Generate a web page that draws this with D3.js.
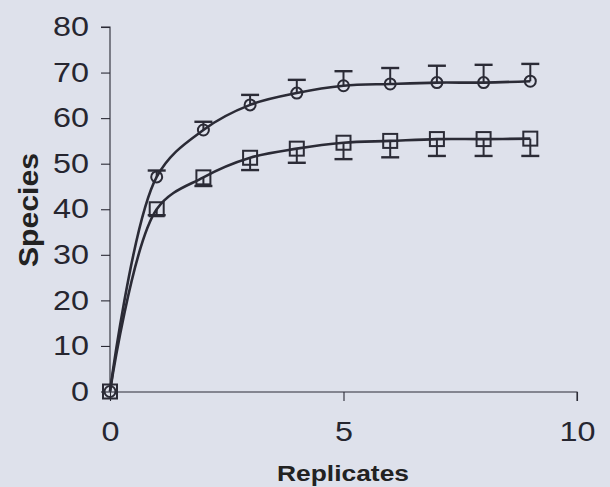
<!DOCTYPE html>
<html><head><meta charset="utf-8">
<script src="https://cdn.jsdelivr.net/npm/d3@7"></script>
<style>html,body{margin:0;padding:0;background:#dee1eb;}svg{display:block;}</style>
</head><body>
<script>
const replicates = [0,1,2,3,4,5,6,7,8,9];
const circleMean = [0,47.1,57.4,62.9,65.5,67.1,67.5,67.8,67.8,68.1];
const circleErr  = [0,1.4,1.8,2.2,2.9,3.2,3.5,3.7,3.9,3.8];
const squareMean = [0,40.0,47.0,51.3,53.3,54.6,55.0,55.4,55.4,55.5];
const squareErr  = [0,1.3,1.9,2.7,3.1,3.6,3.6,3.7,3.7,3.8];
const yTicks = [0,10,20,30,40,50,60,70,80];
const xTicks = [0,5,10];

const W=610,H=487, ink="#2b2b36";
const svg=d3.select("body").append("svg").attr("width",W).attr("height",H);
svg.append("rect").attr("width",W).attr("height",H).attr("fill","#dee1eb");
const x=d3.scaleLinear().domain([0,10]).range([110,577]);
const y=d3.scaleLinear().domain([0,80]).range([391.5,27]);

// axes
const yAx=svg.append("g").attr("transform","translate(110,0)")
  .call(d3.axisLeft(y).tickValues(yTicks).tickSize(9).tickPadding(12));
const xAx=svg.append("g").attr("transform","translate(0,392)")
  .call(d3.axisBottom(x).tickValues(xTicks).tickSize(9).tickPadding(21));
[yAx,xAx].forEach(g=>{
  g.select(".domain").attr("stroke",ink).attr("stroke-width",1.1);
  g.selectAll(".tick line").attr("stroke",ink).attr("stroke-width",1.1);
  g.selectAll(".tick text").attr("fill","#262630").attr("font-family","Liberation Sans, Arial, sans-serif")
   .attr("font-size",27).attr("textLength",d=>String(d).length*18).attr("lengthAdjust","spacingAndGlyphs");
});
xAx.select(".domain").attr("d","M110,0H577V9");
yAx.select(".domain").attr("d","M-9,27H0V391.5");

// titles
svg.append("text").attr("x",343).attr("y",481).attr("text-anchor","middle")
  .attr("font-family","Liberation Sans, Arial, sans-serif").attr("font-weight","bold").attr("font-size",22)
  .attr("fill","#222").attr("textLength",132).attr("lengthAdjust","spacingAndGlyphs").text("Replicates");
svg.append("text").attr("transform","translate(38,210) rotate(-90)").attr("text-anchor","middle")
  .attr("font-family","Liberation Sans, Arial, sans-serif").attr("font-weight","bold").attr("font-size",27)
  .attr("fill","#222").attr("textLength",114).attr("lengthAdjust","spacingAndGlyphs").text("Species");

const line=d3.line().x((d,i)=>x(replicates[i])).y(d=>y(d)).curve(d3.curveCatmullRom.alpha(0.5));
[circleMean,squareMean].forEach(s=>{
  svg.append("path").attr("d",line(s)).attr("fill","none").attr("stroke",ink).attr("stroke-width",2.6);
});

// error bars
const cap=9;
replicates.forEach((r,i)=>{
  if(circleErr[i]>0){
    const cx=x(r), t=y(circleMean[i]+circleErr[i]);
    svg.append("line").attr("x1",cx).attr("x2",cx).attr("y1",y(circleMean[i])).attr("y2",t).attr("stroke",ink).attr("stroke-width",2);
    svg.append("line").attr("x1",cx-cap).attr("x2",cx+cap).attr("y1",t).attr("y2",t).attr("stroke",ink).attr("stroke-width",2.4);
  }
  if(squareErr[i]>0){
    const cx=x(r), b=y(squareMean[i]-squareErr[i]);
    svg.append("line").attr("x1",cx).attr("x2",cx).attr("y1",y(squareMean[i])).attr("y2",b).attr("stroke",ink).attr("stroke-width",2);
    svg.append("line").attr("x1",cx-cap).attr("x2",cx+cap).attr("y1",b).attr("y2",b).attr("stroke",ink).attr("stroke-width",2.4);
  }
});

// markers
svg.selectAll(".c").data(circleMean).enter().append("circle")
  .attr("cx",(d,i)=>x(replicates[i])).attr("cy",d=>y(d)).attr("r",5.5)
  .attr("fill","none").attr("stroke",ink).attr("stroke-width",2);
svg.selectAll(".s").data(squareMean).enter().append("rect")
  .attr("x",(d,i)=>x(replicates[i])-7).attr("y",d=>y(d)-7).attr("width",14).attr("height",14)
  .attr("fill","none").attr("stroke",ink).attr("stroke-width",2);
</script>
</body></html>
